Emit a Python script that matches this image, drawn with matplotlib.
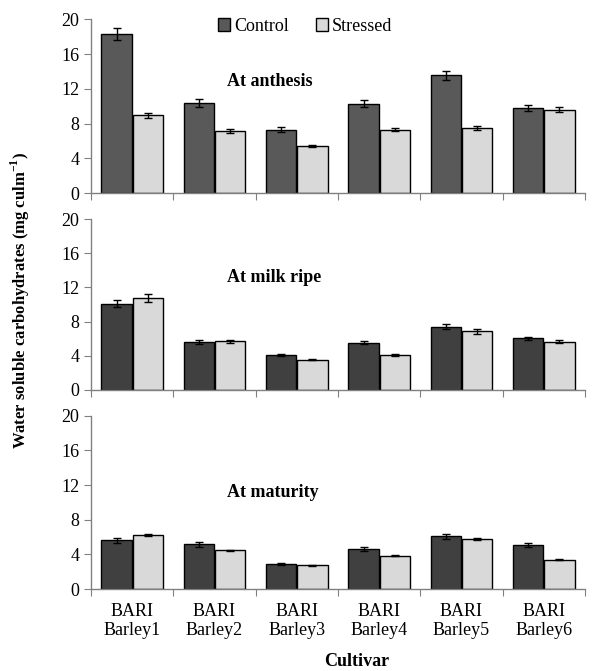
import numpy as np
import matplotlib
matplotlib.use('Agg')
import matplotlib.pyplot as plt

plt.rcParams['font.family'] = ['Liberation Serif', 'DejaVu Serif']
plt.rcParams['mathtext.fontset'] = 'custom'
plt.rcParams['mathtext.rm'] = 'Liberation Serif'
plt.rcParams['mathtext.bf'] = 'Liberation Serif:bold'

cultivars = ['BARI\nBarley1', 'BARI\nBarley2', 'BARI\nBarley3',
             'BARI\nBarley4', 'BARI\nBarley5', 'BARI\nBarley6']

# At anthesis
anth_control = [18.35, 10.35, 7.3, 10.3, 13.55, 9.8]
anth_control_err = [0.7, 0.45, 0.3, 0.4, 0.55, 0.35]
anth_stressed = [8.95, 7.15, 5.45, 7.3, 7.5, 9.6]
anth_stressed_err = [0.25, 0.2, 0.15, 0.2, 0.2, 0.3]

# At milk ripe
milk_control = [10.1, 5.6, 4.05, 5.55, 7.4, 6.05]
milk_control_err = [0.45, 0.2, 0.12, 0.2, 0.3, 0.2]
milk_stressed = [10.8, 5.7, 3.55, 4.1, 6.85, 5.65]
milk_stressed_err = [0.45, 0.2, 0.1, 0.15, 0.25, 0.2]

# At maturity
mat_control = [5.6, 5.15, 2.85, 4.6, 6.1, 5.05]
mat_control_err = [0.25, 0.25, 0.1, 0.2, 0.3, 0.25]
mat_stressed = [6.25, 4.45, 2.72, 3.82, 5.8, 3.38]
mat_stressed_err = [0.1, 0.08, 0.05, 0.06, 0.1, 0.06]

panels = [
    ('At anthesis', anth_control, anth_control_err, anth_stressed, anth_stressed_err, '#595959', 12.9),
    ('At milk ripe', milk_control, milk_control_err, milk_stressed, milk_stressed_err, '#404040', 13.1),
    ('At maturity', mat_control, mat_control_err, mat_stressed, mat_stressed_err, '#404040', 11.1),
]

fig = plt.figure(figsize=(5.92, 6.71), dpi=100)
left, width = 0.1537, 0.8345
boxes = [(0.712, 0.2593), (0.4188, 0.2548), (0.1222, 0.2583)]

x = np.arange(len(cultivars))
bw = 0.37
for i, (title, c, ce, s, se, ccol, ty) in enumerate(panels):
    ax = fig.add_axes([left, boxes[i][0], width, boxes[i][1]])
    ax.bar(x - bw / 2 - 0.005, c, bw, color=ccol, edgecolor='black', linewidth=1,
           yerr=ce, capsize=3, error_kw=dict(elinewidth=1, capthick=1, ecolor='black'),
           label='Control')
    ax.bar(x + bw / 2 + 0.005, s, bw, color='#d9d9d9', edgecolor='black', linewidth=1,
           yerr=se, capsize=3, error_kw=dict(elinewidth=1, capthick=1, ecolor='black'),
           label='Stressed')
    ax.set_xlim(-0.5, 5.5)
    ax.set_ylim(0, 20)
    ax.set_yticks([0, 4, 8, 12, 16, 20])
    ax.set_xticks(np.arange(-0.5, 6, 1))
    ax.set_xticklabels([])
    ax.spines['top'].set_visible(False)
    ax.spines['right'].set_visible(False)
    for sp in ['left', 'bottom']:
        ax.spines[sp].set_color('#808080')
        ax.spines[sp].set_linewidth(1)
    ax.tick_params(axis='both', colors='#808080', labelcolor='black', labelsize=13,
                   length=5, direction='out')
    ax.text(1.15, ty, title, ha='left', va='center', fontsize=13, fontweight='bold')
    if i == 0:
        ax.legend(loc='center', bbox_to_anchor=(0.433, 0.96), ncol=2, frameon=False,
                  prop={'family': 'Liberation Serif', 'size': 13},
                  handlelength=0.7, handleheight=0.7, handletextpad=0.2,
                  columnspacing=1.5, borderaxespad=0)
    if i == 2:
        ax.set_xticks(x, minor=True)
        ax.set_xticklabels(cultivars, minor=True, fontsize=13)
        ax.tick_params(axis='x', which='minor', length=0, pad=10)

fig.text(0.034, 1 - 300 / 671, 'Water soluble carbohydrates (mg culm$^{\\mathbf{-1}}$)',
         rotation=90, ha='center', va='center', fontsize=12, fontweight='bold')
fig.text(357 / 592, 1 - 661 / 671, 'Cultivar', ha='center', va='center',
         fontsize=13, fontweight='bold')

fig.savefig('out.png', dpi=100)
